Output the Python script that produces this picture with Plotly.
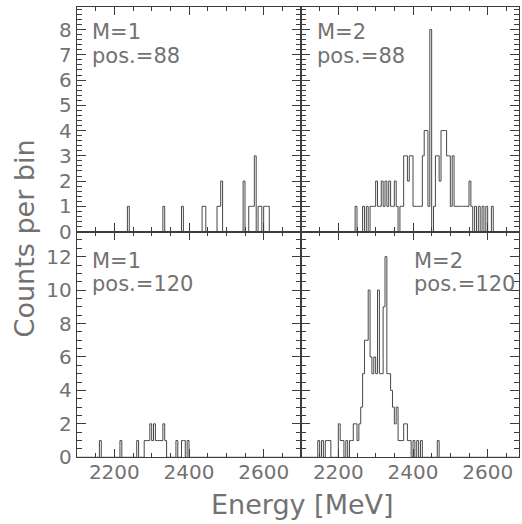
import plotly.graph_objects as go

BIN_WIDTH = 5
E_MIN, E_MAX = 2100, 2700

# ---- data: non-empty bins (left edge in MeV) and their counts ----
# M=1, pos.=88 (top left)
m1_p88_edges = [2235, 2330, 2380, 2435, 2440, 2475, 2480, 2485, 2545,
                2560, 2565, 2570, 2575, 2585, 2590, 2600, 2605, 2610]
m1_p88_counts = [1, 1, 1, 1, 1, 1, 1, 2, 2,
                 1, 1, 1, 3, 1, 1, 1, 1, 1]

# M=2, pos.=88 (top right)
m2_p88_edges = [2245, 2265, 2275, 2285, 2290, 2295, 2300, 2305, 2310, 2315,
                2320, 2325, 2330, 2335, 2340, 2345, 2350, 2355, 2365, 2370,
                2375, 2380, 2385, 2390, 2395, 2400, 2405, 2410, 2415, 2420,
                2425, 2430, 2435, 2440, 2445, 2455, 2460, 2465, 2470, 2475,
                2480, 2485, 2490, 2495, 2500, 2505, 2510, 2515, 2520, 2525,
                2530, 2535, 2540, 2545, 2550, 2555, 2565, 2575, 2585, 2595,
                2610]
m2_p88_counts = [1, 1, 1, 1, 1, 1, 2, 1, 1, 2,
                 1, 2, 1, 2, 1, 1, 2, 1, 1, 1,
                 3, 3, 2, 3, 3, 1, 1, 1, 1, 1,
                 3, 4, 4, 1, 8, 1, 3, 3, 2, 4,
                 4, 4, 3, 3, 1, 3, 1, 1, 1, 1,
                 1, 1, 1, 1, 2, 1, 1, 1, 1, 1,
                 1]

# M=1, pos.=120 (bottom left)
m1_p120_edges = [2160, 2215, 2260, 2280, 2285, 2290, 2295, 2300, 2305, 2310,
                 2315, 2320, 2325, 2330, 2335, 2365, 2380, 2385, 2395]
m1_p120_counts = [1, 1, 1, 1, 1, 1, 2, 1, 2, 1,
                  1, 1, 1, 2, 1, 1, 1, 1, 1]

# M=2, pos.=120 (bottom right)
m2_p120_edges = [2145, 2155, 2165, 2170, 2175, 2200, 2205, 2210, 2220, 2230,
                 2235, 2240, 2245, 2250, 2255, 2260, 2265, 2270, 2275, 2280,
                 2285, 2290, 2295, 2300, 2305, 2310, 2315, 2320, 2325, 2330,
                 2335, 2340, 2345, 2350, 2355, 2360, 2365, 2370, 2375, 2380,
                 2385, 2390, 2400, 2410, 2420, 2465]
m2_p120_counts = [1, 1, 1, 1, 1, 2, 1, 1, 1, 1,
                  1, 2, 2, 1, 2, 3, 5, 7, 7, 10,
                  6, 5, 6, 5, 10, 5, 5, 9, 12, 5,
                  5, 4, 3, 2, 3, 1, 1, 1, 2, 2,
                  1, 1, 1, 1, 1, 1]

panel_labels = [("M=1", "pos.=88"), ("M=2", "pos.=88"),
                ("M=1", "pos.=120"), ("M=2", "pos.=120")]


def step_xy(edges, counts):
    n = int((E_MAX - E_MIN) / BIN_WIDTH)
    h = [0] * n
    for e, c in zip(edges, counts):
        h[int((e - E_MIN) // BIN_WIDTH)] = c
    x = [E_MIN + i * BIN_WIDTH for i in range(n + 1)]
    return x, h + [h[-1]]


W, H = 522, 524
LINE_C = "#474747"
AX_C = "#3c3c3c"
TXT_C = "#727272"
FONT = "DejaVu Sans, sans-serif"


def px_x(p):
    return p / W


def px_y(p):
    return 1 - p / H


fig = go.Figure()
series = [(m1_p88_edges, m1_p88_counts), (m2_p88_edges, m2_p88_counts),
          (m1_p120_edges, m1_p120_counts), (m2_p120_edges, m2_p120_counts)]
for i, (e, c) in enumerate(series):
    x, y = step_xy(e, c)
    sfx = "" if i == 0 else str(i + 1)
    fig.add_trace(go.Scatter(x=x, y=y, mode="lines", line_shape="hv",
                             line=dict(color=LINE_C, width=1),
                             xaxis="x" + sfx, yaxis="y" + sfx,
                             showlegend=False, hoverinfo="skip"))

xl, xm, xr = 77, 301, 519
yt, ym, yb = 7, 237, 468
px_per_mev = (xm - xl) / (E_MAX - E_MIN)
right_max = E_MIN + (xr - xm) / px_per_mev

tickfont = dict(family=FONT, size=20, color=TXT_C)


def xax(dom, rng, labels, anchor):
    return dict(domain=dom, range=rng, anchor=anchor, showline=True,
                linecolor=AX_C, linewidth=1.4, mirror="ticks",
                ticks="inside", ticklen=8, tickwidth=1.2, tickcolor=AX_C,
                tickmode="linear", tick0=2200, dtick=200,
                minor=dict(ticks="inside", ticklen=4, tickwidth=1.2,
                           tickcolor=AX_C, dtick=50, tick0=2100),
                showgrid=False, zeroline=False, showticklabels=labels,
                tickfont=tickfont, ticklabelstandoff=-3, fixedrange=True)


def yax(dom, rng, dt, mdt, labels, anchor):
    return dict(domain=dom, range=rng, anchor=anchor, showline=True,
                linecolor=AX_C, linewidth=1.4, mirror="ticks",
                ticks="inside", ticklen=9, tickwidth=1.2, tickcolor=AX_C,
                tickmode="linear", tick0=0, dtick=dt,
                minor=dict(ticks="inside", ticklen=5, tickwidth=1.2,
                           tickcolor=AX_C, dtick=mdt, tick0=0),
                showgrid=False, zeroline=False, showticklabels=labels,
                tickfont=tickfont, fixedrange=True)


dl = [px_x(xl), px_x(xm)]
dr = [px_x(xm), px_x(xr)]
dtop = [px_y(ym), px_y(yt)]
dbot = [px_y(yb), px_y(ym)]
top_max = 8.9
bot_max = 13.5

fig.update_layout(
    width=W, height=H, margin=dict(l=0, r=0, t=0, b=0),
    paper_bgcolor="white", plot_bgcolor="white",
    xaxis=xax(dl, [E_MIN, E_MAX], False, "y"),
    yaxis=yax(dtop, [0, top_max], 1, 0.2, True, "x"),
    xaxis2=xax(dr, [E_MIN, right_max], False, "y2"),
    yaxis2=yax(dtop, [0, top_max], 1, 0.2, False, "x2"),
    xaxis3=xax(dl, [E_MIN, E_MAX], True, "y3"),
    yaxis3=yax(dbot, [0, bot_max], 2, 0.5, True, "x3"),
    xaxis4=xax(dr, [E_MIN, right_max], True, "y4"),
    yaxis4=yax(dbot, [0, bot_max], 2, 0.5, False, "x4"),
)

ann_font = dict(family=FONT, size=21, color=TXT_C)
# (left x, centre y of first line, centre y of second line) in pixels
label_pos = [(91, 33, 57), (316, 33, 57), (91, 267, 291), (413, 267, 291)]
for (l1, l2), (px, py1, py2) in zip(panel_labels, label_pos):
    fig.add_annotation(text=l1, x=px_x(px), y=px_y(py1), xref="paper",
                       yref="paper", xanchor="left", yanchor="middle",
                       showarrow=False, font=ann_font, borderpad=0)
    fig.add_annotation(text=l2, x=px_x(px), y=px_y(py2), xref="paper",
                       yref="paper", xanchor="left", yanchor="middle",
                       showarrow=False, font=ann_font, borderpad=0)

fig.add_annotation(text="Energy [MeV]", x=px_x(302), y=0, yshift=-9,
                   xref="paper", yref="paper", xanchor="center",
                   yanchor="bottom", showarrow=False, borderpad=0,
                   font=dict(family=FONT, size=27, color=TXT_C))
fig.add_annotation(text="Counts per bin", x=px_x(24), y=px_y(244),
                   xref="paper", yref="paper", xanchor="center",
                   yanchor="middle", showarrow=False, textangle=-90,
                   font=dict(family=FONT, size=27, color=TXT_C))

fig.write_html("out.html",
               config={"displayModeBar": False},
               post_script="document.body.style.margin='0px';"
                           "document.body.style.overflow='hidden';")
